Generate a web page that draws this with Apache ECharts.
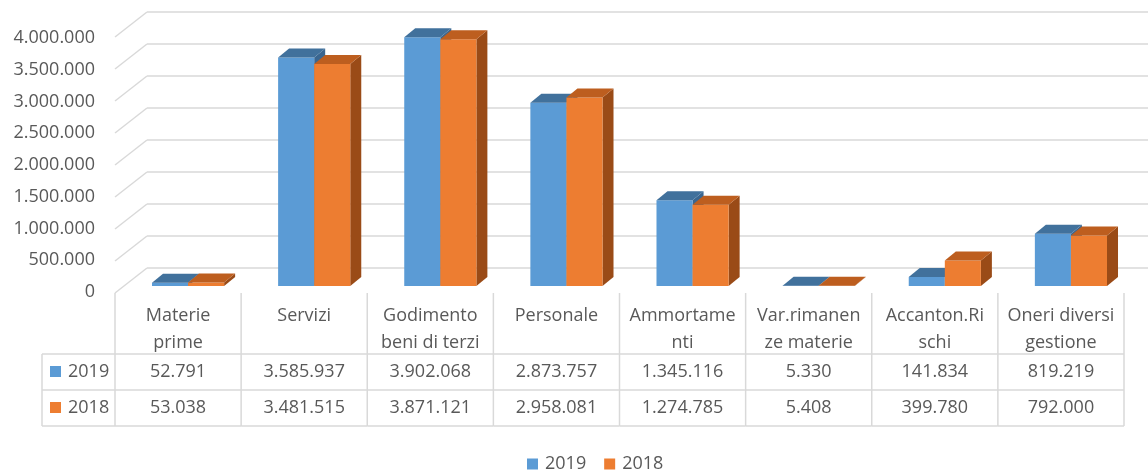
<!DOCTYPE html>
<html>
<head>
<meta charset="utf-8">
<script src="https://cdn.jsdelivr.net/npm/echarts@6/dist/echarts.min.js"></script>
<style>
  html, body { margin: 0; padding: 0; background: #fff; }
  #chart { width: 1148px; height: 474px; }
</style>
</head>
<body>
<div id="chart"></div>
<script>
const categories = [
  "Materie\nprime",
  "Servizi",
  "Godimento\nbeni di terzi",
  "Personale",
  "Ammortame\nnti",
  "Var.rimanen\nze materie",
  "Accanton.Ri\nschi",
  "Oneri diversi\ngestione"
];
const seriesNames = ["2019", "2018"];
const values2019 = [52791, 3585937, 3902068, 2873757, 1345116, 5330, 141834, 819219];
const values2018 = [53038, 3481515, 3871121, 2958081, 1274785, 5408, 399780, 792000];
const yTicks = [0, 500000, 1000000, 1500000, 2000000, 2500000, 3000000, 3500000, 4000000];

const FONT = "Open Sans";
const TEXT = "#595959";
const LINE = "#d9d9d9";
const front = ["#5b9bd5", "#ed7d31"];
const topC = ["#41719c", "#bd5e1f"];
const sideC = ["#3a6690", "#9a4b17"];

function fmt(v) {
  return String(v).replace(/\B(?=(\d{3})+(?!\d))/g, ".");
}

// 3D-looking bar: front face, right side, top
function barItem(s) {
  return function (params, api) {
    const i = api.value(0);
    const v = api.value(1);
    const base = api.coord([i, 0]);
    const top = api.coord([i, v]);
    const band = api.size([1, 0])[0];
    const bw = band * 0.286;
    const x = s === 0 ? base[0] - bw : base[0];
    const x2 = x + bw;
    const yb = base[1], yt = top[1];
    const dx = 11, dy = -9;
    return {
      type: "group",
      children: [
        { type: "polygon", shape: { points: [[x2, yb], [x2 + dx, yb + dy], [x2 + dx, yt + dy], [x2, yt]] }, style: { fill: sideC[s] } },
        { type: "rect", shape: { x: x, y: yt, width: bw, height: yb - yt }, style: { fill: front[s] } },
        { type: "polygon", shape: { points: [[x, yt], [x + dx, yt + dy], [x2 + dx, yt + dy], [x2, yt]] }, style: { fill: topC[s] } }
      ]
    };
  };
}

// data table under the chart, one column per category
function tableItem(params, api) {
  const i = api.value(0);
  const c = api.coord([i, 0])[0];
  const w = api.size([1, 0])[0];
  const l = c - w / 2, r = c + w / 2;
  const ls = { stroke: LINE, lineWidth: 1.5 };
  const children = [
    { type: "line", shape: { x1: l, y1: 293, x2: l, y2: 426 }, style: ls },
    { type: "line", shape: { x1: l, y1: 354, x2: r, y2: 354 }, style: ls },
    { type: "line", shape: { x1: l, y1: 390, x2: r, y2: 390 }, style: ls },
    { type: "line", shape: { x1: l, y1: 426, x2: r, y2: 426 }, style: ls },
    { type: "text", style: { text: categories[i], x: c, y: 302, align: "center", verticalAlign: "top", lineHeight: 27, fontSize: 18, fontFamily: FONT, fill: TEXT } },
    { type: "text", style: { text: fmt(values2019[i]), x: c, y: 372, align: "center", verticalAlign: "middle", fontSize: 18, fontFamily: FONT, fill: TEXT } },
    { type: "text", style: { text: fmt(values2018[i]), x: c, y: 408, align: "center", verticalAlign: "middle", fontSize: 18, fontFamily: FONT, fill: TEXT } }
  ];
  if (i === categories.length - 1) {
    children.push({ type: "line", shape: { x1: r, y1: 293, x2: r, y2: 426 }, style: ls });
  }
  return { type: "group", children: children };
}

// side wall lines joining front labels to back wall gridlines
function sideItem(params, api) {
  const p = api.coord([0, api.value(1)]);
  return {
    type: "line",
    shape: { x1: p[0] - 32, y1: p[1] + 25, x2: p[0], y2: p[1] },
    style: { stroke: LINE, lineWidth: 1.5 }
  };
}

const chart = echarts.init(document.getElementById("chart"));
const option = {
  animation: false,
  color: front,
  textStyle: { fontFamily: FONT },
  grid: [
    { left: 125, right: 14, top: 31, bottom: 188 },
    { left: 147, right: 0, top: 12, bottom: 206 },
    { left: 115, right: 24, top: 38, bottom: 182 }
  ],
  xAxis: [
    { type: "category", gridIndex: 0, data: categories, show: false },
    { type: "value", gridIndex: 1, min: 0, max: 1, show: false },
    { type: "category", gridIndex: 2, data: categories, show: false }
  ],
  yAxis: [
    { type: "value", gridIndex: 0, min: 0, max: 4000000, show: false },
    {
      type: "value", gridIndex: 1, min: 0, max: 4000000, interval: 500000,
      axisLine: { show: false }, axisTick: { show: false }, axisLabel: { show: false },
      splitLine: { show: true, lineStyle: { color: LINE, width: 1.5 } }
    },
    {
      type: "value", gridIndex: 2, min: 0, max: 4000000, interval: 500000,
      axisLine: { show: false }, axisTick: { show: false }, splitLine: { show: false },
      axisLabel: { margin: 20, color: TEXT, fontSize: 18, fontFamily: FONT, formatter: fmt }
    }
  ],
  legend: {
    data: seriesNames,
    left: 527,
    top: 455,
    padding: 0,
    icon: "rect",
    itemWidth: 11,
    itemHeight: 11,
    itemGap: 18,
    textStyle: { color: TEXT, fontSize: 18, fontFamily: FONT, padding: [0, 0, 0, 2] }
  },
  graphic: [
    { type: "line", shape: { x1: 42, y1: 354, x2: 115, y2: 354 }, style: { stroke: LINE, lineWidth: 1.5 } },
    { type: "line", shape: { x1: 42, y1: 390, x2: 115, y2: 390 }, style: { stroke: LINE, lineWidth: 1.5 } },
    { type: "line", shape: { x1: 42, y1: 426, x2: 115, y2: 426 }, style: { stroke: LINE, lineWidth: 1.5 } },
    { type: "line", shape: { x1: 42, y1: 354, x2: 42, y2: 426 }, style: { stroke: LINE, lineWidth: 1.5 } },
    { type: "rect", shape: { x: 50, y: 366, width: 11, height: 11 }, style: { fill: front[0] } },
    { type: "text", style: { text: seriesNames[0], x: 68, y: 372, verticalAlign: "middle", fontSize: 18, fontFamily: FONT, fill: TEXT } },
    { type: "rect", shape: { x: 50, y: 402, width: 11, height: 11 }, style: { fill: front[1] } },
    { type: "text", style: { text: seriesNames[1], x: 68, y: 408, verticalAlign: "middle", fontSize: 18, fontFamily: FONT, fill: TEXT } }
  ],
  series: [
    {
      name: "wall", type: "custom", xAxisIndex: 1, yAxisIndex: 1, silent: true,
      renderItem: sideItem,
      data: yTicks.map(v => [0, v])
    },
    {
      name: seriesNames[0], type: "custom", xAxisIndex: 0, yAxisIndex: 0,
      itemStyle: { color: front[0] },
      renderItem: barItem(0),
      encode: { x: 0, y: 1 },
      data: values2019.map((v, i) => [i, v])
    },
    {
      name: seriesNames[1], type: "custom", xAxisIndex: 0, yAxisIndex: 0,
      itemStyle: { color: front[1] },
      renderItem: barItem(1),
      encode: { x: 0, y: 1 },
      data: values2018.map((v, i) => [i, v])
    },
    {
      name: "table", type: "custom", xAxisIndex: 2, yAxisIndex: 2, silent: true,
      renderItem: tableItem,
      data: categories.map((c, i) => [i, 0])
    }
  ]
};
chart.setOption(option);
</script>
</body>
</html>
